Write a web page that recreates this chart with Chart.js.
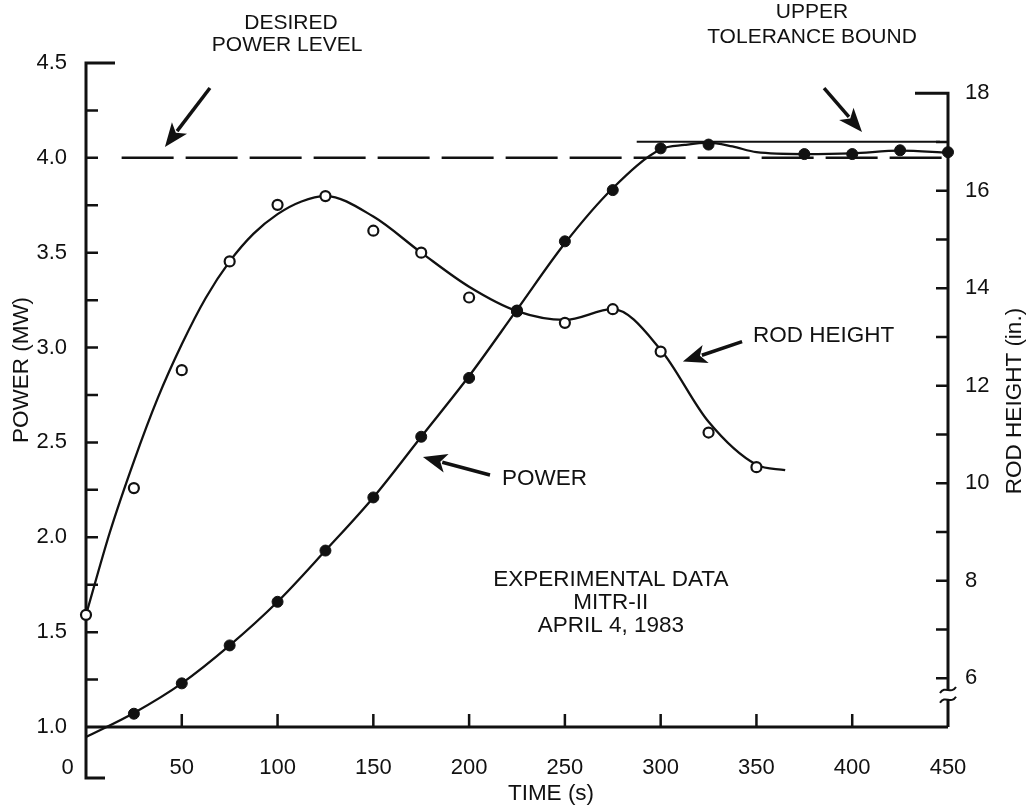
<!DOCTYPE html>
<html lang="en">
<head>
<meta charset="UTF-8">
<title>MITR-II power and rod height</title>
<style>
  html, body { margin: 0; padding: 0; background: #fff; }
  #wrap { width: 1028px; height: 808px; }
</style>
</head>
<body>
<div id="wrap"><canvas id="chart" width="1028" height="808"></canvas></div>
<script src="https://cdn.jsdelivr.net/npm/chart.js"></script>
<script>
// measured power (filled circles), MW
const powerTimes = [25, 50, 75, 100, 125, 150, 175, 200, 225, 250, 275, 300, 325, 375, 400, 425, 450];
const powerMW = [1.07, 1.23, 1.43, 1.66, 1.93, 2.21, 2.53, 2.84, 3.19, 3.56, 3.83, 4.05, 4.07, 4.02, 4.02, 4.04, 4.03];

// measured rod height (open circles), inches
const rodTimes = [0, 25, 50, 75, 100, 125, 150, 175, 200, 225, 250, 275, 300, 325, 350];
const rodInches = [7.30, 9.90, 12.32, 14.55, 15.71, 15.89, 15.18, 14.73, 13.81, 13.54, 13.29, 13.57, 12.70, 11.04, 10.33];

// hand-drawn fitted curves
const powerCurveTimes = [0, 25, 50, 75, 100, 125, 150, 175, 200, 225, 250, 275, 300, 312.5, 325, 337.5, 350, 375, 400, 425, 450];
const powerCurveMW = [0.947, 1.074, 1.23, 1.43, 1.66, 1.93, 2.21, 2.53, 2.85, 3.20, 3.55, 3.84, 4.045, 4.068, 4.08, 4.06, 4.03, 4.02, 4.024, 4.038, 4.027];
const rodCurveTimes = [0, 12.5, 25, 37.5, 50, 62.5, 75, 87.5, 100, 112.5, 125, 150, 175, 200, 225, 250, 275, 300, 325, 350, 365];
const rodCurveInches = [7.30, 9.00, 10.45, 11.75, 12.85, 13.80, 14.55, 15.12, 15.52, 15.78, 15.89, 15.47, 14.73, 14.03, 13.53, 13.35, 13.57, 12.74, 11.26, 10.38, 10.27];

// reference levels
const desiredLevel = 4.0;
const desiredSpan = [18.6, 450];
const upperBound = 4.085;
const upperSpan = [287.5, 445.8];

// axes
const timeTicks = [0, 50, 100, 150, 200, 250, 300, 350, 400, 450];
const powerTicks = [1.0, 1.25, 1.5, 1.75, 2.0, 2.25, 2.5, 2.75, 3.0, 3.25, 3.5, 3.75, 4.0, 4.25, 4.5];
const rodTicks = [6, 7, 8, 9, 10, 11, 12, 13, 14, 15, 16, 17, 18];

const ink = '#111';
const fontFamily = '"Liberation Sans", Arial, Helvetica, sans-serif';
const pts = (xs, ys) => xs.map((v, i) => ({ x: v, y: ys[i] }));

// axis lines with inward ticks, end stubs and the break on the rod axis
const axisFrame = {
  id: 'axisFrame',
  beforeDatasetsDraw(chart) {
    const { ctx, scales: { x, y, y2 } } = chart;
    const left = x.getPixelForValue(0), right = x.getPixelForValue(450);
    const base = y.getPixelForValue(1.0), top = y.getPixelForValue(4.5);
    const r18 = y2.getPixelForValue(18);
    ctx.save();
    ctx.strokeStyle = ink;
    ctx.lineWidth = 3;
    ctx.beginPath();
    ctx.moveTo(left + 29, top); ctx.lineTo(left, top);
    ctx.lineTo(left, base + 51); ctx.lineTo(left + 19, base + 51);
    ctx.moveTo(left, base); ctx.lineTo(right, base);
    ctx.moveTo(right - 33, r18); ctx.lineTo(right, r18); ctx.lineTo(right, base);
    ctx.stroke();

    ctx.lineWidth = 2.5;
    ctx.beginPath();
    powerTicks.slice(1, -1).forEach(v => {
      const py = y.getPixelForValue(v);
      ctx.moveTo(left, py); ctx.lineTo(left + 12, py);
    });
    rodTicks.slice(0, -1).forEach(v => {
      const py = y2.getPixelForValue(v);
      ctx.moveTo(right, py); ctx.lineTo(right - 12, py);
    });
    timeTicks.slice(1, -1).forEach(v => {
      const px = x.getPixelForValue(v);
      ctx.moveTo(px, base); ctx.lineTo(px, base - 13);
    });
    ctx.stroke();

    // axis break below 6 in.
    const b1 = y2.getPixelForValue(5.76), b2 = y2.getPixelForValue(5.56);
    ctx.fillStyle = '#fff';
    ctx.fillRect(right - 3, b1, 6, b2 - b1);
    ctx.lineWidth = 2;
    ctx.beginPath();
    [b1, b2].forEach(cy => {
      ctx.moveTo(right - 8, cy + 3);
      ctx.bezierCurveTo(right - 3, cy - 5, right + 3, cy + 5, right + 8, cy - 3);
    });
    ctx.stroke();
    ctx.restore();
  }
};

function arrow(ctx, x1, y1, x2, y2) {
  const a = Math.atan2(y2 - y1, x2 - x1);
  const len = 24, half = 9.5;
  const bx = x2 - Math.cos(a) * len, by = y2 - Math.sin(a) * len;
  ctx.beginPath();
  ctx.moveTo(x1, y1); ctx.lineTo(bx + Math.cos(a) * 4, by + Math.sin(a) * 4);
  ctx.stroke();
  ctx.beginPath();
  ctx.moveTo(x2, y2);
  ctx.lineTo(bx + Math.sin(a) * half, by - Math.cos(a) * half);
  ctx.lineTo(bx + Math.cos(a) * 6, by + Math.sin(a) * 6);
  ctx.lineTo(bx - Math.sin(a) * half, by + Math.cos(a) * half);
  ctx.closePath();
  ctx.fill();
}

// labels, arrows and axis titles
const notes = {
  id: 'notes',
  afterDatasetsDraw(chart) {
    const { ctx, scales: { x, y } } = chart;
    const X = t => x.getPixelForValue(t), Y = p => y.getPixelForValue(p);
    ctx.save();
    ctx.fillStyle = ink;
    ctx.strokeStyle = ink;
    ctx.lineWidth = 3.5;
    ctx.textBaseline = 'middle';

    ctx.font = '21px ' + fontFamily;
    ctx.textAlign = 'center';
    ctx.fillText('DESIRED', X(107), Y(4.711));
    ctx.fillText('POWER LEVEL', X(105), Y(4.595));
    arrow(ctx, X(64.7), Y(4.368), X(41.2), Y(4.057));

    ctx.fillText('UPPER', X(379), Y(4.769));
    ctx.fillText('TOLERANCE BOUND', X(379), Y(4.637));
    arrow(ctx, X(385.3), Y(4.368), X(405.1), Y(4.136));

    ctx.font = '22.5px ' + fontFamily;
    ctx.textAlign = 'left';
    ctx.fillText('ROD HEIGHT', X(348.2), Y(3.061));
    arrow(ctx, X(342.5), Y(3.031), X(311.6), Y(2.926));
    ctx.fillText('POWER', X(217.2), Y(2.307));
    arrow(ctx, X(210.9), Y(2.328), X(175.9), Y(2.423));

    ctx.textAlign = 'center';
    ctx.fillText('EXPERIMENTAL DATA', X(274), Y(1.775));
    ctx.fillText('MITR-II', X(274), Y(1.654));
    ctx.fillText('APRIL 4, 1983', X(274), Y(1.532));

    ctx.font = '22.5px ' + fontFamily;
    ctx.fillText('TIME (s)', 551, 794);
    ctx.translate(22, 370);
    ctx.rotate(-Math.PI / 2);
    ctx.fillText('POWER (MW)', 0, 0);
    ctx.setTransform(1, 0, 0, 1, 0, 0);
    ctx.translate(1015, 401);
    ctx.rotate(-Math.PI / 2);
    ctx.fillText('ROD HEIGHT (in.)', 0, 0);
    ctx.restore();
  }
};

const tickFont = { family: fontFamily, size: 22 };

new Chart(document.getElementById('chart'), {
  type: 'scatter',
  data: {
    datasets: [
      {
        label: 'Power (measured)', data: pts(powerTimes, powerMW), yAxisID: 'y',
        pointRadius: 5.5, backgroundColor: ink, borderColor: ink, borderWidth: 1, order: 0, clip: false
      },
      {
        label: 'Rod height (measured)', data: pts(rodTimes, rodInches), yAxisID: 'y2',
        pointRadius: 5, backgroundColor: '#fff', borderColor: ink, borderWidth: 2.2, order: 0, clip: false
      },
      {
        label: 'Power', data: pts(powerCurveTimes, powerCurveMW), yAxisID: 'y',
        showLine: true, cubicInterpolationMode: 'monotone', borderColor: ink, borderWidth: 2.3,
        pointRadius: 0, order: 2, clip: false
      },
      {
        label: 'Rod height', data: pts(rodCurveTimes, rodCurveInches), yAxisID: 'y2',
        showLine: true, cubicInterpolationMode: 'monotone', borderColor: ink, borderWidth: 2.3,
        pointRadius: 0, order: 2, clip: false
      },
      {
        label: 'Desired power level', data: pts(desiredSpan, [desiredLevel, desiredLevel]), yAxisID: 'y',
        showLine: true, borderColor: ink, borderWidth: 2.5, borderDash: [52, 12],
        pointRadius: 0, order: 3, clip: false
      },
      {
        label: 'Upper tolerance bound', data: pts(upperSpan, [upperBound, upperBound]), yAxisID: 'y',
        showLine: true, borderColor: ink, borderWidth: 2.2, pointRadius: 0, order: 3, clip: false
      }
    ]
  },
  options: {
    responsive: false,
    devicePixelRatio: 1,
    animation: false,
    layout: { padding: { top: 63, left: 0, right: 0, bottom: 0 } },
    plugins: { legend: { display: false }, tooltip: { enabled: false } },
    scales: {
      x: {
        type: 'linear', position: 'bottom', min: 0, max: 450,
        afterBuildTicks: s => { s.ticks = timeTicks.map(v => ({ value: v })); },
        afterFit: s => { s.height = 81; },
        grid: { display: false }, border: { display: false },
        ticks: {
          font: tickFont, color: ink, padding: 20, autoSkip: false, maxRotation: 0,
          callback: v => (v === 0 ? '0      ' : String(v))
        }
      },
      y: {
        type: 'linear', position: 'left', min: 1.0, max: 4.5,
        afterBuildTicks: s => { s.ticks = powerTicks.map(v => ({ value: v })); },
        afterFit: s => { s.width = 86; },
        grid: { display: false }, border: { display: false },
        ticks: {
          font: tickFont, color: ink, padding: 11, autoSkip: false,
          callback: v => (Math.round(v * 100) % 50 === 0 ? v.toFixed(1) : '')
        }
      },
      y2: {
        type: 'linear', position: 'right', min: 5.0, max: 18.62,
        afterBuildTicks: s => { s.ticks = rodTicks.map(v => ({ value: v })); },
        afterFit: s => { s.width = 80; },
        grid: { display: false }, border: { display: false },
        ticks: {
          font: tickFont, color: ink, padding: 9, autoSkip: false,
          callback: v => (v % 2 === 0 ? String(v) : '')
        }
      }
    }
  },
  plugins: [axisFrame, notes]
});
</script>
</body>
</html>
